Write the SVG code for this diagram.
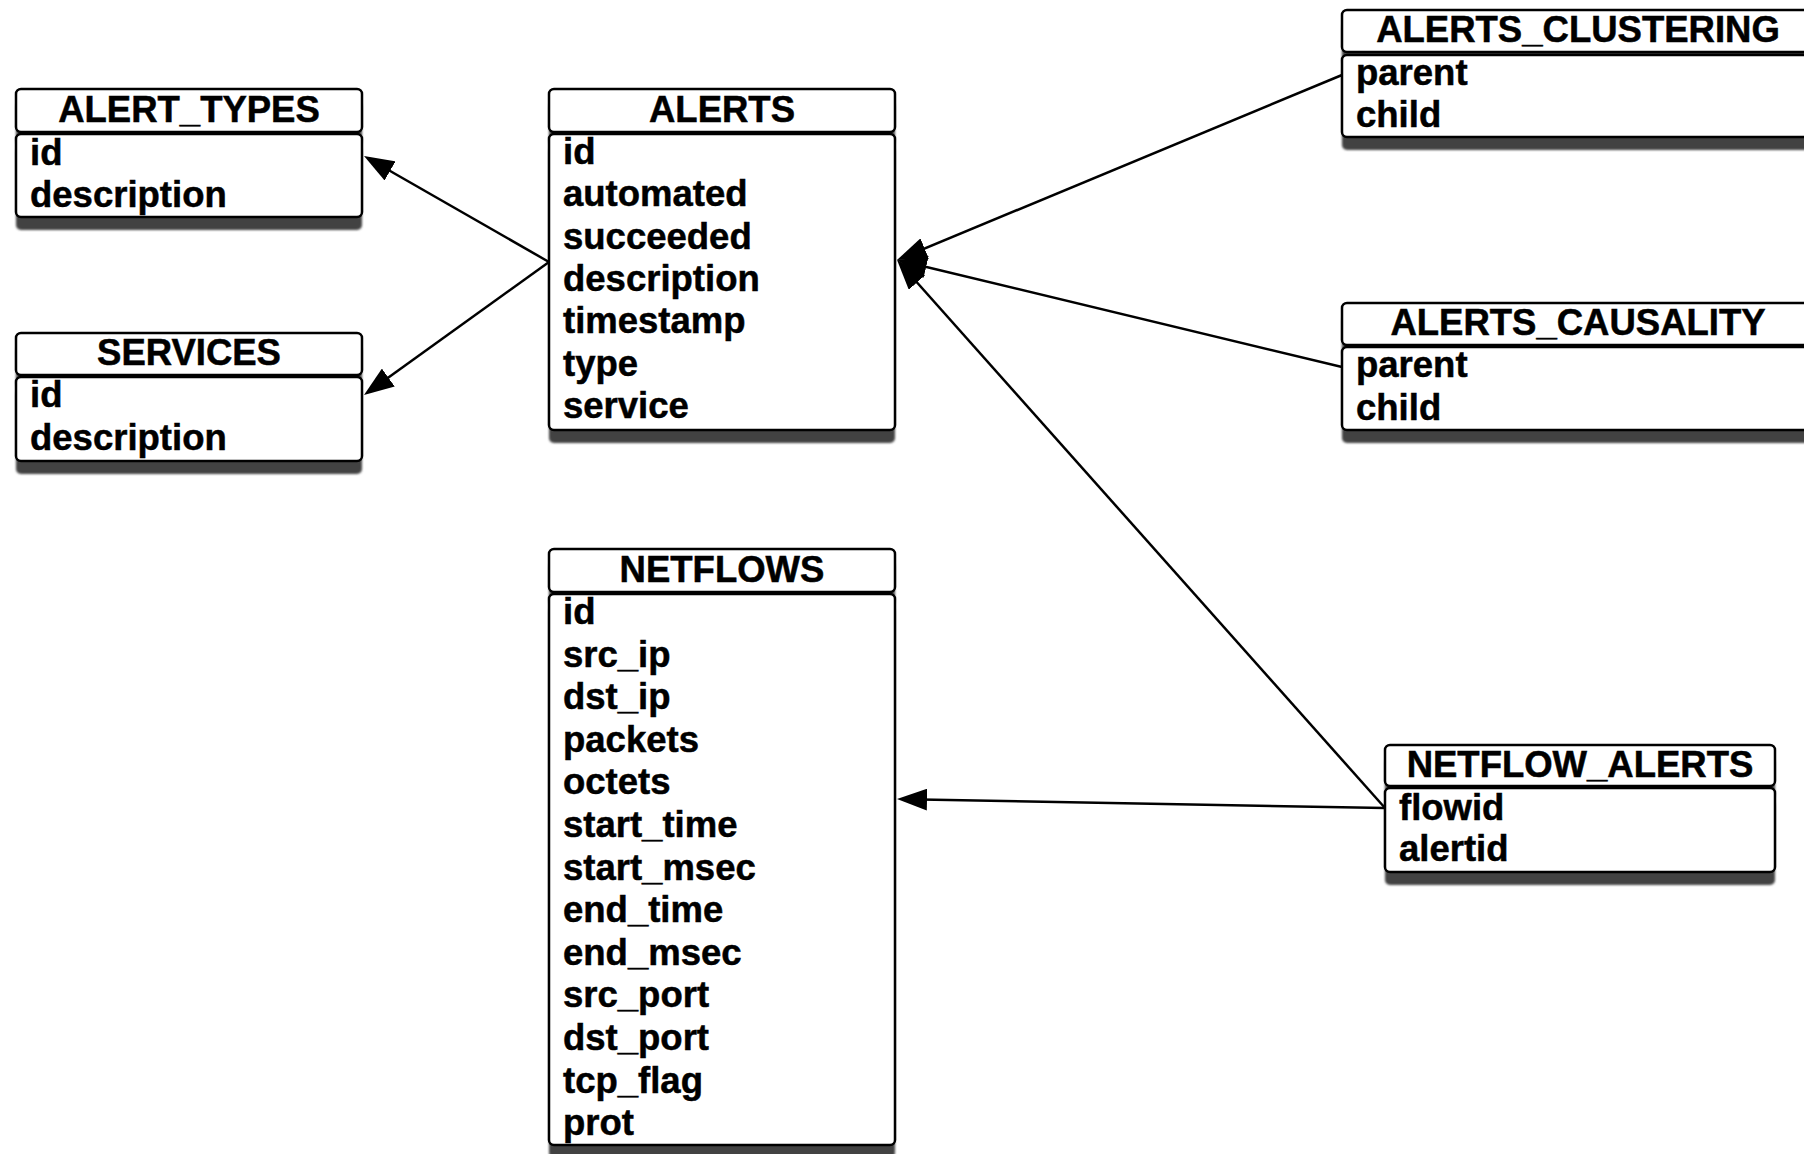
<svg xmlns="http://www.w3.org/2000/svg" width="1804" height="1154" viewBox="0 0 1804 1154">
<defs>
<filter id="blur" x="-10%" y="-10%" width="120%" height="130%"><feGaussianBlur stdDeviation="1.3"/></filter>
<marker id="arr" markerUnits="userSpaceOnUse" markerWidth="31" markerHeight="22" refX="20" refY="11" orient="auto" viewBox="0 0 31 22">
<path d="M0,0 L30,11 L0,22 z" fill="#000"/>
</marker>
<style>
.box{fill:#fff;stroke:#000;stroke-width:2.5}
.sh{fill:#424242;filter:url(#blur)}
.t{font-family:"Liberation Sans",Arial,Helvetica,sans-serif;font-weight:bold;font-size:36.5px;fill:#000;stroke:#000;stroke-width:0.5}
.c{text-anchor:middle}
.ln{fill:none;stroke:#000;stroke-width:2.5;marker-end:url(#arr)}
</style>
</defs>
<rect width="1804" height="1154" fill="#fff"/>

<g id="alert_types">
<rect class="sh" x="16" y="102" width="346" height="43" rx="5"/>
<rect class="sh" x="16" y="147" width="346" height="83" rx="5"/>
<rect class="box" x="16" y="89" width="346" height="43" rx="5"/>
<rect class="box" x="16" y="134" width="346" height="83" rx="5"/>
<text class="t c" x="189" y="122">ALERT_TYPES</text>
<text class="t" x="30" y="165">id</text>
<text class="t" x="30" y="207">description</text>
</g>

<g id="services">
<rect class="sh" x="16" y="346" width="346" height="42" rx="5"/>
<rect class="sh" x="16" y="390" width="346" height="84" rx="5"/>
<rect class="box" x="16" y="333" width="346" height="42" rx="5"/>
<rect class="box" x="16" y="377" width="346" height="84" rx="5"/>
<text class="t c" x="189" y="365">SERVICES</text>
<text class="t" x="30" y="407">id</text>
<text class="t" x="30" y="450">description</text>
</g>

<g id="alerts">
<rect class="sh" x="549" y="102" width="346" height="43" rx="5"/>
<rect class="sh" x="549" y="147" width="346" height="296" rx="5"/>
<rect class="box" x="549" y="89" width="346" height="43" rx="5"/>
<rect class="box" x="549" y="134" width="346" height="296" rx="5"/>
<text class="t c" x="722" y="122">ALERTS</text>
<text class="t" x="563" y="164">id</text>
<text class="t" x="563" y="206.3">automated</text>
<text class="t" x="563" y="248.6">succeeded</text>
<text class="t" x="563" y="290.9">description</text>
<text class="t" x="563" y="333.2">timestamp</text>
<text class="t" x="563" y="375.5">type</text>
<text class="t" x="563" y="417.8">service</text>
</g>

<g id="netflows">
<rect class="sh" x="549" y="562" width="346" height="43" rx="5"/>
<rect class="sh" x="549" y="607" width="346" height="551" rx="5"/>
<rect class="box" x="549" y="549" width="346" height="43" rx="5"/>
<rect class="box" x="549" y="594" width="346" height="551" rx="5"/>
<text class="t c" x="722" y="582">NETFLOWS</text>
<text class="t" x="563" y="624">id</text>
<text class="t" x="563" y="666.6">src_ip</text>
<text class="t" x="563" y="709.2">dst_ip</text>
<text class="t" x="563" y="751.8">packets</text>
<text class="t" x="563" y="794.4">octets</text>
<text class="t" x="563" y="837">start_time</text>
<text class="t" x="563" y="879.6">start_msec</text>
<text class="t" x="563" y="922.2">end_time</text>
<text class="t" x="563" y="964.8">end_msec</text>
<text class="t" x="563" y="1007.4">src_port</text>
<text class="t" x="563" y="1050">dst_port</text>
<text class="t" x="563" y="1092.6">tcp_flag</text>
<text class="t" x="563" y="1135.2">prot</text>
</g>

<g id="alerts_clustering">
<rect class="sh" x="1342" y="23" width="474" height="42" rx="5"/>
<rect class="sh" x="1342" y="68" width="474" height="82" rx="5"/>
<rect class="box" x="1342" y="10" width="474" height="42" rx="5"/>
<rect class="box" x="1342" y="55" width="474" height="82" rx="5"/>
<text class="t c" x="1578" y="42">ALERTS_CLUSTERING</text>
<text class="t" x="1356" y="85">parent</text>
<text class="t" x="1356" y="127">child</text>
</g>

<g id="alerts_causality">
<rect class="sh" x="1342" y="316" width="474" height="42" rx="5"/>
<rect class="sh" x="1342" y="360" width="474" height="83" rx="5"/>
<rect class="box" x="1342" y="303" width="474" height="42" rx="5"/>
<rect class="box" x="1342" y="347" width="474" height="83" rx="5"/>
<text class="t c" x="1578" y="335">ALERTS_CAUSALITY</text>
<text class="t" x="1356" y="377">parent</text>
<text class="t" x="1356" y="420">child</text>
</g>

<g id="netflow_alerts">
<rect class="sh" x="1385" y="758" width="390" height="41" rx="5"/>
<rect class="sh" x="1385" y="801" width="390" height="84" rx="5"/>
<rect class="box" x="1385" y="745" width="390" height="41" rx="5"/>
<rect class="box" x="1385" y="788" width="390" height="84" rx="5"/>
<text class="t c" x="1580" y="777">NETFLOW_ALERTS</text>
<text class="t" x="1399" y="820">flowid</text>
<text class="t" x="1399" y="861">alertid</text>
</g>

<g id="connectors">
<line class="ln" x1="549" y1="262" x2="372.7" y2="161"/>
<line class="ln" x1="549" y1="262" x2="372.1" y2="389.2"/>
<line class="ln" x1="1342" y1="75" x2="906.2" y2="256.2"/>
<line class="ln" x1="1342" y1="367" x2="906.7" y2="262.3"/>
<line class="ln" x1="1385" y1="808" x2="903.7" y2="267.5"/>
<line class="ln" x1="1385" y1="808" x2="907" y2="799.2"/>
</g>
</svg>
